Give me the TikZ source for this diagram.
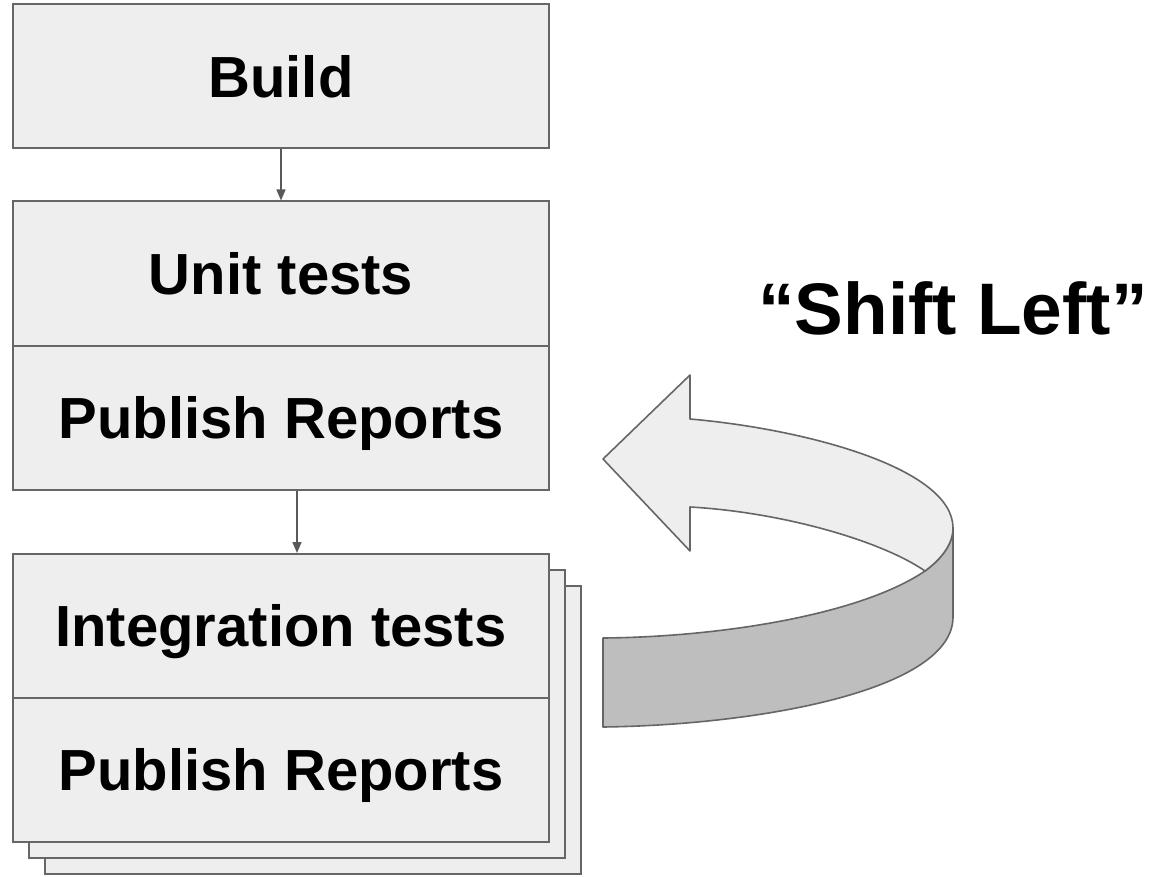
\documentclass[tikz,border=0pt]{standalone}
\usepackage{fontspec}
\setmainfont{Liberation Sans}
\usetikzlibrary{arrows.meta}
\definecolor{boxfill}{HTML}{EEEEEE}
\definecolor{boxline}{HTML}{666666}
\definecolor{bandfill}{HTML}{BEBEBE}
\definecolor{arrowline}{HTML}{595959}
\tikzset{
  box/.style={draw=boxline, fill=boxfill, line width=2pt, rectangle,
    minimum width=536pt, minimum height=144pt, inner sep=0pt,
    font=\fontsize{58}{70}\selectfont\bfseries, text height=41.5pt, text depth=0pt},
  sheet/.style={draw=boxline, fill=boxfill, line width=2pt},
  conn/.style={draw=arrowline, line width=1.5pt, -{Triangle[length=11pt,width=9pt]}},
  face/.style={draw=boxline, fill=boxfill, line width=1.6pt, line join=round},
  band/.style={draw=boxline, fill=bandfill, line width=1.6pt, line join=round},
  bigtext/.style={font=\fontsize{73}{86}\selectfont\bfseries, anchor=base, inner sep=0pt}
}
\begin{document}
\begin{tikzpicture}[x=1pt,y=-1pt]
\useasboundingbox[fill=white] (0,0) rectangle (1161,877);
% stacked back sheets
\draw[sheet] (45,586) rectangle (581,874);
\draw[sheet] (29,570) rectangle (565,858);
% boxes
\node[box] (build) at (281,76.5) {Build};
\node[box] (unit) at (281,273.5) {Unit tests};
\node[box] (pub1) at (281,418) {Publish Reports};
\node[box] (integ) at (281,626) {Integration tests};
\node[box] (pub2) at (281,770) {Publish Reports};
% connectors
\draw[conn] (build.south) -- (unit.north);
\draw[conn] ([xshift=16pt]pub1.south) -- ([xshift=16pt]integ.north);
% curved arrow: band (underside)
\draw[band] (925,571) .. controls (940,560) and (953,545) .. (953,528)
  -- (953,617) .. controls (953,690) and (760,725) .. (603,727)
  -- (603,638) .. controls (720,637) and (860,615) .. (925,571) -- cycle;
% curved arrow: top face with head
\draw[face] (603,459) -- (690,375) -- (690,419)
  .. controls (805,429) and (953,468) .. (953,528)
  .. controls (953,545) and (940,560) .. (925,571)
  .. controls (880,540) and (780,512) .. (690,507)
  -- (690,551) -- cycle;
% label
\node[bigtext] (shift) at (953,334) {“Shift Left”};
\end{tikzpicture}
\end{document}
